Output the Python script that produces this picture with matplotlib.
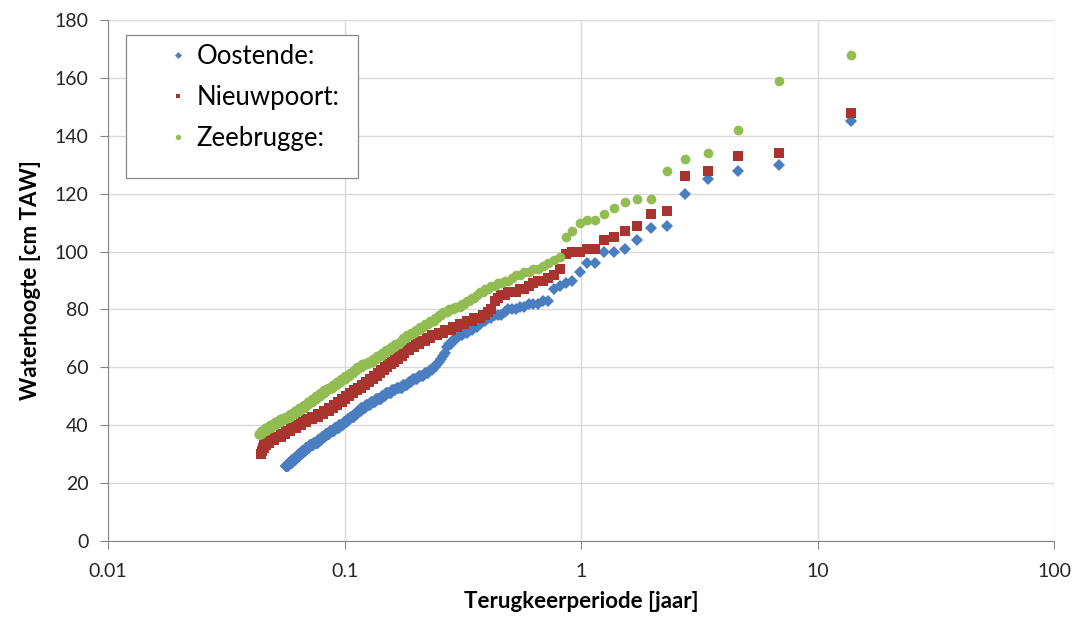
import numpy as np
import matplotlib
matplotlib.use('Agg')
import matplotlib.pyplot as plt
from matplotlib.patches import Rectangle

plt.rcParams['font.family'] = ['Lato', 'DejaVu Sans']

# return period T = record_years / rank (rank 1 = highest level)
record_years = 13.8

# Oostende: water levels [cm TAW], highest first, and how many events at each level
oost_levels = [145, 130, 128, 125, 120, 109, 108, 104, 101, 100, 96, 93, 90, 89, 88, 87,
               83, 82, 81, 80, 79, 78, 77, 76, 75, 74, 73, 72, 71, 70, 69, 68, 67, 65, 64,
               63, 62, 61, 60, 59, 58, 57, 56, 55, 54, 53, 52, 51, 50, 49, 48, 47, 46, 45,
               44, 43, 42, 41, 40, 39, 38, 37, 36, 35, 34, 33, 32, 31, 30, 29, 28, 27, 26]
oost_counts = [1, 1, 1, 1, 1, 1, 1, 1, 1, 2, 2, 1, 1, 1, 1, 1,
               2, 3, 2, 3, 1, 3, 2, 2, 1, 2, 2, 2, 2, 2, 1, 2, 1, 1, 1,
               1, 1, 1, 2, 2, 3, 4, 4, 3, 4, 5, 4, 5, 4, 6, 5, 5, 5, 4,
               4, 5, 4, 5, 6, 7, 7, 7, 6, 6, 8, 8, 7, 7, 7, 7, 8, 8, 7]

# Nieuwpoort
nieu_levels = [148, 134, 133, 128, 126, 114, 113, 109, 107, 105, 104, 101, 100, 99, 94,
               92, 91, 90, 89, 88, 87, 86, 85, 84, 83, 80, 79, 78, 77, 76, 75, 74, 73, 72,
               71, 70, 69, 68, 67, 66, 65, 64, 63, 62, 61, 60, 59, 58, 57, 56, 55, 54, 53,
               52, 51, 50, 49, 48, 47, 46, 45, 44, 43, 42, 41, 40, 39, 38, 37, 36, 35, 34,
               33, 32, 31, 30]
nieu_counts = [1, 1, 1, 1, 1, 1, 1, 1, 1, 1, 1, 2, 2, 1, 1,
               1, 1, 2, 1, 1, 2, 3, 2, 1, 1, 1, 1, 2, 3, 3, 3, 3, 4, 3,
               4, 3, 4, 3, 4, 3, 2, 3, 3, 3, 3, 3, 4, 3, 4, 4, 4, 4, 5,
               5, 5, 5, 5, 6, 6, 7, 9, 9, 11, 11, 10, 11, 12, 12, 11, 16, 14, 10,
               6, 4, 3, 3]

# Zeebrugge
zeeb_levels = [168, 159, 142, 134, 132, 128, 118, 117, 115, 113, 111, 110, 107, 105,
               98, 97, 96, 95, 94, 93, 92, 91, 90, 89, 88, 87, 86, 85, 84, 83, 82, 81, 80,
               79, 78, 77, 76, 75, 74, 73, 72, 71, 70, 69, 68, 67, 66, 65, 64, 63, 62, 61,
               60, 59, 58, 57, 56, 55, 54, 53, 52, 51, 50, 49, 48, 47, 46, 45, 44, 43, 42,
               41, 40, 39, 38, 37]
zeeb_counts = [1, 1, 1, 1, 1, 1, 2, 1, 1, 1, 2, 1, 1, 1,
               1, 1, 1, 1, 2, 2, 2, 1, 2, 2, 2, 2, 2, 1, 2, 2, 2, 3, 3,
               3, 2, 2, 3, 3, 3, 3, 3, 3, 3, 2, 4, 4, 4, 4, 5, 4, 5, 6,
               6, 4, 5, 6, 6, 6, 6, 7, 6, 7, 7, 7, 8, 7, 10, 10, 10, 11, 13,
               13, 13, 14, 12, 8]

series = [
    ('Oostende:', oost_levels, oost_counts, '#4A7EC0', 'D', 6.5),
    ('Nieuwpoort:', nieu_levels, nieu_counts, '#A8332F', 's', 6.5),
    ('Zeebrugge:', zeeb_levels, zeeb_counts, '#92BD52', 'o', 7),
]

fig = plt.figure(figsize=(10.8, 6.21), dpi=100)
ax = fig.add_axes([108 / 1080, 80 / 621, 946 / 1080, 521 / 621])

for name, levels, counts, color, marker, ms in series:
    h = np.repeat(levels, counts)
    rank = np.arange(1, len(h) + 1)
    T = record_years / rank
    ax.plot(T, h, linestyle='none', marker=marker, ms=ms, color=color,
            markeredgewidth=0, label=name, zorder=3)

ax.set_xscale('log')
ax.set_xlim(0.01, 100)
ax.set_ylim(0, 180)
ax.set_xticks([0.01, 0.1, 1, 10, 100])
ax.set_xticklabels(['0.01', '0.1', '1', '10', '100'])
ax.set_yticks(np.arange(0, 181, 20))
ax.minorticks_off()

ax.grid(True, color='#D9D9D9', linewidth=1)
ax.set_axisbelow(True)
for s in ['top', 'right']:
    ax.spines[s].set_visible(False)
for s in ['left', 'bottom']:
    ax.spines[s].set_color('#868686')
ax.tick_params(axis='both', direction='out', length=6, color='#868686',
               labelsize=14, labelcolor='#262626')
ax.tick_params(axis='x', pad=10)
ax.tick_params(axis='y', pad=8)

ax.set_xlabel('Terugkeerperiode [jaar]', fontsize=16, fontweight='bold', labelpad=8)
ax.set_ylabel('Waterhoogte [cm TAW]', fontsize=16, fontweight='bold', labelpad=10)

# legend frame drawn separately so its size can match the original
ax.add_patch(Rectangle((18 / 946, 363 / 521), 232 / 946, 143 / 521,
                       transform=ax.transAxes, facecolor='white',
                       edgecolor='#888888', linewidth=0.9, zorder=4))
leg = ax.legend(loc='upper left', bbox_to_anchor=(60 / 946, 1 - 24 / 521),
                frameon=False, fontsize=18.5, markerscale=0.55, handlelength=0.8,
                handletextpad=0.3, labelspacing=0.62, borderpad=0, borderaxespad=0)
leg.set_zorder(5)

fig.savefig('out.png', dpi=100)
